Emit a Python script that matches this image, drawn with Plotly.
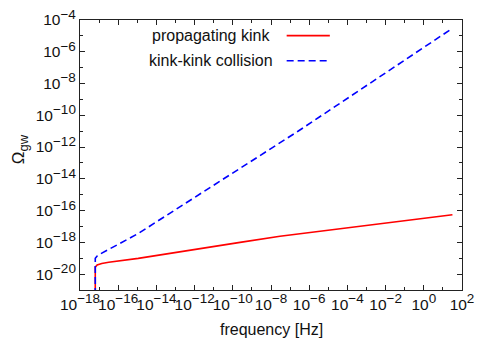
import plotly.graph_objects as go

# Data
freq_kink = [6.3e-18, 6.3e-18, 7.9e-18, 1.38e-17, 3.2e-17, 1.12e-15, 2.4e-10, 2.95e-8, 31.6]
omega_kink = [1e-22, 2.75e-20, 3.8e-20, 4.7e-20, 5.6e-20, 9.8e-20, 1.0e-18, 2.45e-18, 5.5e-17]

freq_coll = [6.3e-18, 6.3e-18, 7.9e-18, 1.12e-17, 1.12e-15, 1.74e-13, 2.7e-7, 31.6]
omega_coll = [1e-22, 9.8e-20, 1.38e-19, 1.82e-19, 3.6e-18, 1.7e-16, 1.02e-11, 3.0e-5]

series_names = ["propagating kink", "kink-kink collision"]
x_range_log = [-18, 2]
y_range_log = [-21, -4]

x_tick_exps = [-18, -16, -14, -12, -10, -8, -6, -4, -2, 0, 2]
x_minor_exps = [-17, -15, -13, -11, -9, -7, -5, -3, -1, 1]
y_tick_exps = [-20, -18, -16, -14, -12, -10, -8, -6, -4]
y_minor_exps = [-21, -19, -17, -15, -13, -11, -9, -7, -5]

FONT = "Liberation Sans, Arial, Helvetica, sans-serif"
SUP = '<sup><span style="font-size:13.5px">%s</span></sup>'


def exp_label(e):
    return "10" + SUP % (str(e).replace("-", "\u2212"))


fig = go.Figure()
fig.add_trace(go.Scatter(x=freq_kink, y=omega_kink, mode="lines", name=series_names[0],
                         line=dict(color="#ff0000", width=1.6), showlegend=False))
fig.add_trace(go.Scatter(x=freq_coll, y=omega_coll, mode="lines", name=series_names[1],
                         line=dict(color="#0000ff", width=1.6, dash="7px,4px"), showlegend=False))


def axis_style(major, minor):
    return dict(
        type="log", showgrid=False, zeroline=False, showline=True, linecolor="#222222", linewidth=1,
        mirror="ticks", ticks="inside", ticklen=5, tickcolor="#222222", tickwidth=1,
        tickmode="array", tickvals=[10.0 ** e for e in major],
        ticktext=[exp_label(e) for e in major], tickangle=0, automargin=False,
        tickfont=dict(family=FONT, size=15.5, color="#111111"),
        minor=dict(tickmode="array", tickvals=[10.0 ** e for e in minor], ticks="inside",
                   ticklen=3, tickcolor="#222222", tickwidth=1, showgrid=False),
    )


fig.update_xaxes(range=x_range_log, **axis_style(x_tick_exps, x_minor_exps))
fig.update_yaxes(range=y_range_log, **axis_style(y_tick_exps, y_minor_exps))

# Custom key (text right-aligned, sample on the right, like the reference)
key_y = [0.942, 0.849]
key_text_x = [0.5026, 0.5105]
colors = ["#ff0000", "#0000ff"]
dashes = ["solid", "7px,4px"]
for name, yy, tx, c, d in zip(series_names, key_y, key_text_x, colors, dashes):
    fig.add_annotation(x=tx, y=yy, xref="paper", yref="paper", text=name, showarrow=False,
                       xanchor="right", yanchor="middle", font=dict(family=FONT, size=16, color="#111111"))
    fig.add_shape(type="line", xref="paper", yref="paper", x0=0.541, x1=0.654, y0=yy, y1=yy,
                  line=dict(color=c, width=1.6, dash=d))

fig.add_annotation(x=0.5, y=-0.148, xref="paper", yref="paper", text="frequency [Hz]", showarrow=False,
                   xanchor="center", yanchor="middle", font=dict(family=FONT, size=16, color="#111111"))
fig.add_annotation(x=-0.158, y=0.52, xref="paper", yref="paper",
                   text='Ω<sub><span style="font-size:13px">gw</span></sub>', showarrow=False,
                   textangle=-90, xanchor="center", yanchor="middle", font=dict(family=FONT, size=17, color="#111111"))

# The page body adds an 8px offset; size/margins compensate so the plot area
# sits at x 80-462, y 20-290 in the 491x343 window.
fig.update_layout(
    width=483, height=335,
    margin=dict(l=72, r=29, t=12, b=53),
    paper_bgcolor="white", plot_bgcolor="white",
    showlegend=False,
)
fig.write_html("out.html")
